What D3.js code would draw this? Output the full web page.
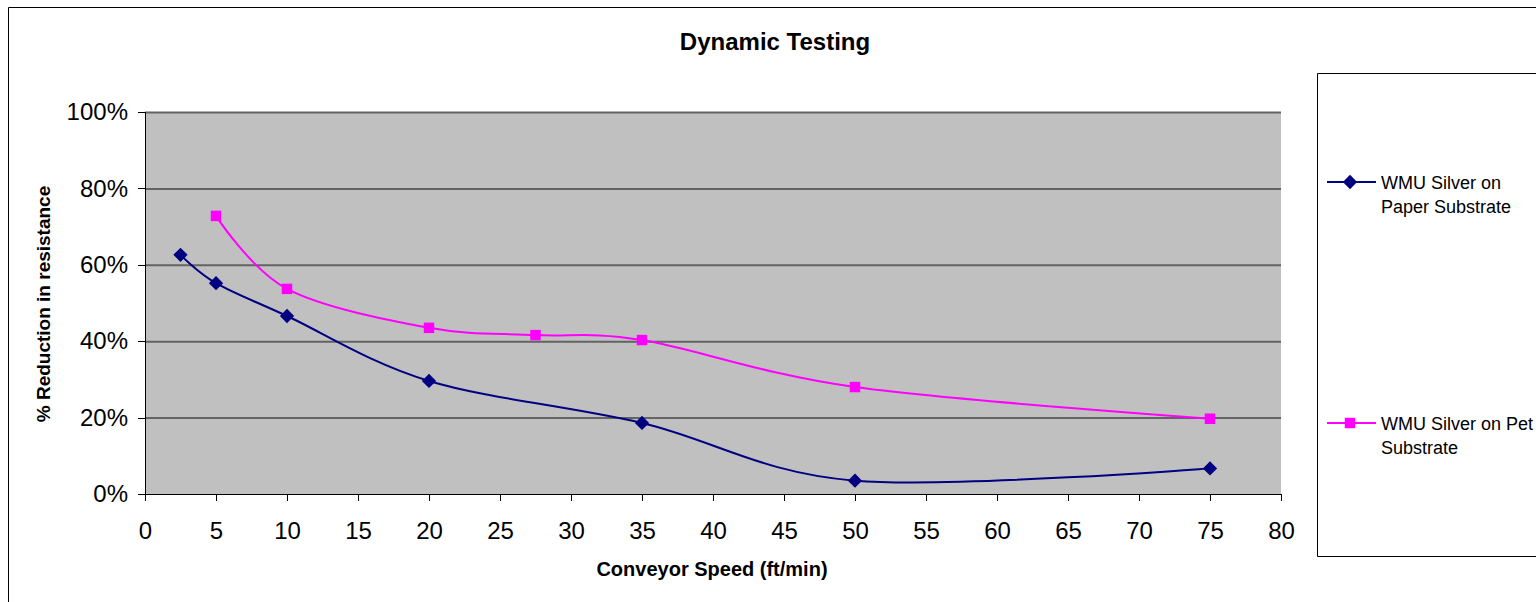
<!DOCTYPE html>
<html>
<head>
<meta charset="utf-8">
<script src="https://cdn.jsdelivr.net/npm/d3@7"></script>
<style>
  html, body { margin: 0; padding: 0; background: #fff; }
  svg { display: block; }
</style>
</head>
<body>
<svg id="d" width="1536" height="602" font-family="Arial, 'Liberation Sans', sans-serif"></svg>
<script>
  const titleText = 'Dynamic Testing';
  const xAxisLabelText = 'Conveyor Speed (ft/min)';
  const yAxisLabelText = '% Reduction in resistance';

  const paperSpeeds = [2.5, 5, 10, 20, 35, 50, 75];
  const paperValues = [0.626, 0.552, 0.466, 0.296, 0.186, 0.035, 0.067];
  const petSpeeds = [5, 10, 20, 27.5, 35, 50, 75];
  const petValues = [0.728, 0.537, 0.435, 0.416, 0.403, 0.28, 0.197];

  const seriesNames = ['WMU Silver on Paper Substrate', 'WMU Silver on Pet Substrate'];
  const legendLines = [['WMU Silver on', 'Paper Substrate'], ['WMU Silver on Pet', 'Substrate']];
  const xTicks = d3.range(0, 81, 5);
  const yTicks = [0, 0.2, 0.4, 0.6, 0.8, 1];

  const fontFamily = "Arial, 'Liberation Sans', sans-serif";

  const svg = d3.select('#d');
  const width = +svg.attr('width');
  const height = +svg.attr('height');

  // chart frame: only left and top edges are visible, it runs off the page
  svg.append('path')
    .attr('d', `M8.5,${height} V7.5 H${width}`)
    .attr('fill', 'none').attr('stroke', '#000');

  const margin = { top: 112, right: 255, bottom: 108, left: 145 };
  const innerWidth = width - margin.left - margin.right;
  const innerHeight = height - margin.top - margin.bottom;

  const xScale = d3.scaleLinear().domain([0, 80]).range([0, innerWidth]);
  const yScale = d3.scaleLinear().domain([0, 1]).range([innerHeight, 0]);

  const g = svg.append('g')
    .attr('transform', `translate(${margin.left},${margin.top})`);

  g.append('rect')
    .attr('width', innerWidth)
    .attr('height', innerHeight)
    .attr('fill', '#c0c0c0');

  // gridlines
  const gridG = g.append('g')
    .call(d3.axisLeft(yScale).tickValues(yTicks.slice(1)).tickSize(-innerWidth).tickFormat(''));
  gridG.select('.domain').remove();
  gridG.selectAll('.tick line').attr('stroke', '#636363').attr('stroke-width', 2);

  const yAxisG = g.append('g')
    .call(d3.axisLeft(yScale).tickValues(yTicks).tickFormat(d3.format('.0%')).tickSize(7).tickPadding(10))
    .attr('font-size', 24).attr('font-family', fontFamily);
  yAxisG.selectAll('text').attr('fill', '#000');
  yAxisG.selectAll('.domain, .tick line').attr('shape-rendering', 'crispEdges');

  const xAxisG = g.append('g')
    .attr('transform', `translate(0,${innerHeight})`)
    .call(d3.axisBottom(xScale).tickValues(xTicks).tickSize(7).tickPadding(21))
    .attr('font-size', 24).attr('font-family', fontFamily);
  xAxisG.selectAll('text').attr('fill', '#000');
  xAxisG.selectAll('.domain, .tick line').attr('shape-rendering', 'crispEdges');

  const seriesData = [
    { name: seriesNames[0], color: '#000080', shape: d3.symbolDiamond2, size: 130,
      points: paperSpeeds.map((s, i) => ({ x: s, y: paperValues[i] })) },
    { name: seriesNames[1], color: '#ff00ff', shape: d3.symbolSquare, size: 110,
      points: petSpeeds.map((s, i) => ({ x: s, y: petValues[i] })) }
  ];

  const line = d3.line()
    .x(d => xScale(d.x))
    .y(d => yScale(d.y))
    .curve(d3.curveCatmullRom.alpha(0));

  seriesData.forEach(s => {
    g.append('path')
      .attr('d', line(s.points))
      .attr('fill', 'none')
      .attr('stroke', s.color)
      .attr('stroke-width', 2);
    g.selectAll(null).data(s.points)
      .enter().append('path')
        .attr('transform', d => `translate(${xScale(d.x)},${yScale(d.y)})`)
        .attr('d', d3.symbol().type(s.shape).size(s.size))
        .attr('fill', s.color);
  });

  svg.append('text')
    .attr('x', 775).attr('y', 50)
    .attr('text-anchor', 'middle')
    .attr('font-size', 24).attr('font-weight', 'bold')
    .text(titleText);

  svg.append('text')
    .attr('x', 712).attr('y', 576)
    .attr('text-anchor', 'middle')
    .attr('font-size', 20).attr('font-weight', 'bold')
    .text(xAxisLabelText);

  svg.append('text')
    .attr('transform', `translate(50,304) rotate(-90)`)
    .attr('text-anchor', 'middle')
    .attr('font-size', 19).attr('font-weight', 'bold')
    .text(yAxisLabelText);

  // legend box: left, top and bottom edges, runs off the right side
  const legend = svg.append('g');
  legend.append('path')
    .attr('d', `M${width},73.5 H1317.5 V556.5 H${width}`)
    .attr('fill', '#fff').attr('stroke', '#000');

  const legendY = [182, 423];
  seriesData.forEach((s, i) => {
    const lg = legend.append('g').attr('transform', `translate(1327,${legendY[i]})`);
    lg.append('line').attr('x1', 0).attr('x2', 49)
      .attr('stroke', s.color).attr('stroke-width', 2);
    lg.append('path')
      .attr('transform', 'translate(23,0)')
      .attr('d', d3.symbol().type(s.shape).size(s.size))
      .attr('fill', s.color);
    lg.append('text')
      .attr('x', 54).attr('y', 7)
      .attr('font-size', 18)
      .selectAll('tspan').data(legendLines[i])
      .enter().append('tspan')
        .attr('x', 54).attr('dy', (d, j) => j === 0 ? 0 : 24)
        .text(d => d);
  });
</script>
</body>
</html>
